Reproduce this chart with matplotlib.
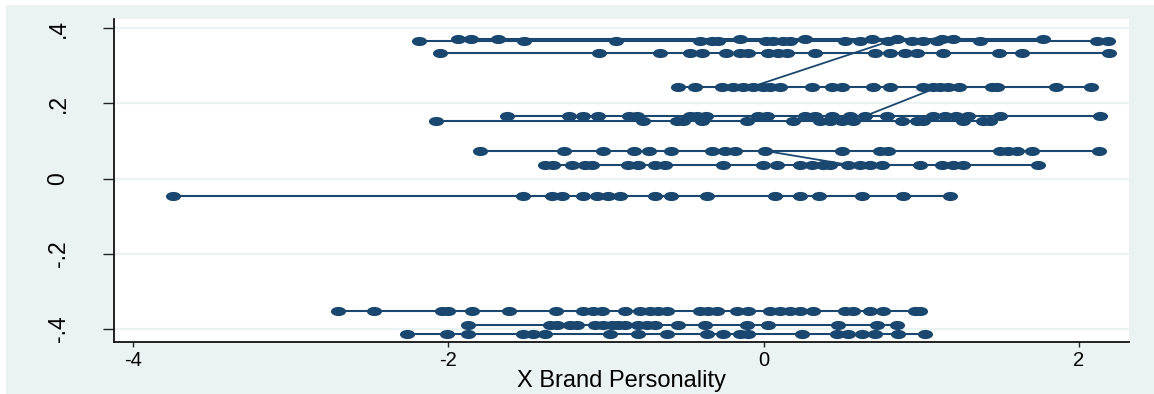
import matplotlib
matplotlib.use("Agg")
import matplotlib.pyplot as plt
from matplotlib.markers import MarkerStyle
from matplotlib.transforms import Affine2D
from matplotlib.patches import Rectangle

plt.rcParams['font.family'] = ['Liberation Sans', 'DejaVu Sans']

# Group means (y) and individual brand-personality scores (x) per group
y_levels = {
    'a1': 0.372, 'a2': 0.366, 'b': 0.335, 'c': 0.245, 'd': 0.166, 'e': 0.153,
    'f': 0.074, 'g': 0.037, 'h': -0.046, 'i': -0.353, 'j': -0.390, 'k': -0.414,
}

x_a1 = [-1.940, -1.858, -1.686, -0.152, 0.260, 0.685, 0.843, 1.128, 1.198, 1.769]
x_a2 = [-2.187, -1.521, -0.938, -0.406, -0.330, -0.292, 0.013, 0.057, 0.120,
        0.165, 0.513, 0.609, 0.786, 0.938, 1.008, 1.097, 1.369, 2.117, 2.181]
x_b = [-2.054, -1.046, -0.659, -0.469, -0.393, -0.241, -0.152, -0.101, 0.025,
       0.089, 0.146, 0.323, 0.704, 0.799, 0.894, 0.970, 1.135, 1.490, 1.636, 2.193]
x_c = [-0.545, -0.437, -0.266, -0.197, -0.133, -0.070, -0.006, 0.038, 0.101,
       0.304, 0.431, 0.494, 0.691, 0.799, 1.008, 1.071, 1.116, 1.166, 1.242,
       1.445, 1.483, 1.857, 2.079]
x_d = [-1.629, -1.236, -1.147, -1.052, -0.856, -0.805, -0.469, -0.425, -0.368,
       -0.038, 0.019, 0.260, 0.323, 0.431, 0.545, 0.640, 0.780, 1.071, 1.147,
       1.223, 1.293, 1.496, 2.130]
x_e = [-2.079, -0.767, -0.552, -0.513, -0.393, -0.108, 0.184, 0.355, 0.418,
       0.494, 0.564, 0.875, 0.970, 1.008, 1.262, 1.388, 1.433]
x_f = [-1.800, -1.268, -1.021, -0.824, -0.729, -0.590, -0.330, -0.247, -0.184,
       0.006, 0.494, 0.735, 0.786, 1.496, 1.547, 1.604, 1.705, 2.124]
x_g = [-1.388, -1.338, -1.217, -1.135, -1.090, -0.862, -0.799, -0.691, -0.628,
       -0.260, -0.006, 0.082, 0.228, 0.304, 0.374, 0.418, 0.532, 0.609, 0.672,
       0.748, 0.989, 1.128, 1.198, 1.262, 1.737]
x_h = [-3.746, -1.528, -1.344, -1.280, -1.147, -1.059, -0.989, -0.913, -0.691,
       -0.590, -0.361, 0.070, 0.228, 0.349, 0.621, 0.881, 1.179]
x_i = [-2.700, -2.472, -2.041, -2.003, -1.851, -1.616, -1.319, -1.147, -1.084,
       -1.027, -0.881, -0.786, -0.723, -0.672, -0.615, -0.406, -0.355, -0.298,
       -0.171, -0.101, 0.038, 0.101, 0.165, 0.228, 0.311, 0.513, 0.564, 0.672,
       0.754, 0.957, 0.989]
x_j = [-1.876, -1.357, -1.312, -1.230, -1.185, -1.071, -1.021, -0.964, -0.926,
       -0.881, -0.799, -0.742, -0.691, -0.545, -0.374, -0.108, 0.025, 0.469,
       0.716, 0.843]
x_k = [-2.263, -2.010, -1.876, -1.528, -1.464, -1.388, -0.976, -0.799, -0.615,
       -0.361, -0.260, -0.152, -0.101, 0.241, 0.463, 0.532, 0.621, 0.704, 0.849,
       1.021]

x_groups = {'a1': x_a1, 'a2': x_a2, 'b': x_b, 'c': x_c, 'd': x_d, 'e': x_e,
            'f': x_f, 'g': x_g, 'h': x_h, 'i': x_i, 'j': x_j, 'k': x_k}

# Points where the data order jumps from one group to another
links = [('c', -0.070, 'a1', 0.843), ('d', 0.640, 'c', 1.116), ('f', 0.006, 'g', 0.532)]

x_ticks = [-4, -2, 0, 2]
x_ticklabels = ['-4', '-2', '0', '2']
y_ticks = [-0.4, -0.2, 0.0, 0.2, 0.4]
y_ticklabels = ['-.4', '-.2', '0', '.2', '.4']

navy = '#1a476f'
bg = '#eaf2f3'

fig = plt.figure(figsize=(11.54, 3.94), dpi=100, facecolor='white')
fig.patches.append(Rectangle((6 / 1154, 0), 1, 1 - 5 / 394, transform=fig.transFigure,
                             facecolor=bg, edgecolor='none', zorder=-10))
ax = fig.add_axes([114 / 1154, 1 - 342 / 394, (1129 - 114) / 1154, (342 - 19) / 394])
ax.set_facecolor('white')

dot = MarkerStyle('o', transform=Affine2D().scale(1.65, 1.0))

for key, xs in x_groups.items():
    xs_sorted = sorted(xs)
    ys = [y_levels[key]] * len(xs_sorted)
    ax.plot(xs_sorted, ys, color=navy, lw=1.5, marker=dot, ms=6.6,
            markeredgewidth=0, markerfacecolor=navy, zorder=3, solid_capstyle='butt')

for g0, x0, g1, x1 in links:
    ax.plot([x0, x1], [y_levels[g0], y_levels[g1]], color=navy, lw=1.3, zorder=2)

ax.set_xlim(-4.12, 2.317)
ax.set_ylim(-0.4355, 0.425)
ax.set_xticks(x_ticks)
ax.set_xticklabels(x_ticklabels, fontsize=14.5)
ax.set_yticks(y_ticks)
ax.set_yticklabels(y_ticklabels, fontsize=16.5, rotation=90, va='center')
ax.tick_params(axis='x', length=3.8, width=1.0, pad=3, color='#222222')
ax.tick_params(axis='y', length=8, width=1.0, pad=24, color='#222222')

for yt in y_ticks:
    ax.axhline(yt, color=bg, lw=1.6, zorder=0)

for side in ('top', 'right'):
    ax.spines[side].set_visible(False)
for side in ('left', 'bottom'):
    ax.spines[side].set_linewidth(1.3)
    ax.spines[side].set_color('#111111')

ax.set_xlabel('X Brand Personality', fontsize=17, labelpad=0)

fig.savefig('out.png', dpi=100, facecolor=fig.get_facecolor())
